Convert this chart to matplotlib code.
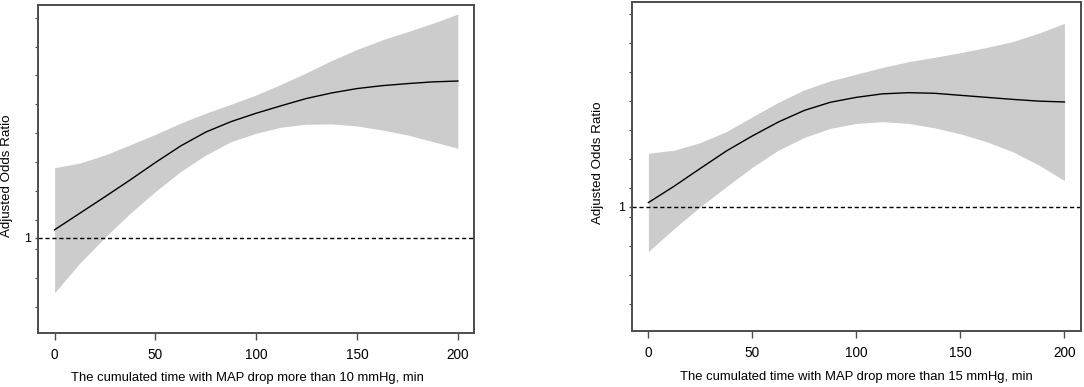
import numpy as np
import matplotlib
matplotlib.use("Agg")
import matplotlib.pyplot as plt

plt.rcParams['font.family'] = ['Liberation Sans', 'DejaVu Sans']

# -------------------------------
# Data
# -------------------------------
minutes = [0, 12.5, 25, 37.5, 50, 62.5, 75, 87.5, 100,
           112.5, 125, 137.5, 150, 162.5, 175, 187.5, 200]

# MAP drop > 10 mmHg
or10 = [1.028, 1.085, 1.142, 1.200, 1.260, 1.317, 1.365, 1.401, 1.430,
        1.456, 1.481, 1.500, 1.515, 1.525, 1.532, 1.538, 1.541]
upper10 = [1.242, 1.258, 1.286, 1.321, 1.357, 1.396, 1.430, 1.461, 1.493,
           1.530, 1.570, 1.612, 1.650, 1.683, 1.711, 1.740, 1.772]
lower10 = [0.811, 0.913, 1.002, 1.085, 1.160, 1.229, 1.286, 1.332, 1.361,
           1.382, 1.392, 1.393, 1.386, 1.372, 1.355, 1.332, 1.309]

# MAP drop > 15 mmHg
or15 = [1.014, 1.071, 1.132, 1.192, 1.244, 1.292, 1.332, 1.360, 1.377,
        1.389, 1.393, 1.391, 1.384, 1.377, 1.370, 1.364, 1.361]
upper15 = [1.184, 1.195, 1.221, 1.259, 1.310, 1.360, 1.403, 1.434, 1.457,
           1.480, 1.500, 1.515, 1.531, 1.549, 1.569, 1.598, 1.632]
lower15 = [0.845, 0.925, 1.000, 1.069, 1.136, 1.195, 1.239, 1.270, 1.287,
           1.293, 1.287, 1.272, 1.251, 1.224, 1.190, 1.144, 1.090]

xticks = [0, 50, 100, 150, 200]
xlabels = ["The cumulated time with MAP drop more than 10 mmHg, min",
           "The cumulated time with MAP drop more than 15 mmHg, min"]

SPINE = "#4d4d4d"
BAND = "#cccccc"


def draw_panel(ax, x, y, lo, hi, xlabel, ylim, minor, xlab_pos, ylab_pos):
    ax.fill_between(x, lo, hi, color=BAND, linewidth=0)
    ax.plot(x, y, color="black", linewidth=1.0)
    ax.axhline(1, color="black", linewidth=1.0, linestyle=(0, (3, 2)))

    ax.set_xlim(-8, 208)
    ax.set_ylim(*ylim)
    ax.set_xticks(xticks)
    ax.set_yticks([1])
    ax.set_yticklabels(["1"])
    ax.set_yticks(minor, minor=True)

    for s in ax.spines.values():
        s.set_color(SPINE)
        s.set_linewidth(1.4)

    ax.tick_params(axis="x", length=5, width=1, color=SPINE, pad=6,
                   labelsize=9.8)
    ax.tick_params(axis="y", which="major", length=2, width=1, color=SPINE,
                   pad=3, labelsize=9)
    ax.tick_params(axis="y", which="minor", length=2, width=0.8, color=SPINE)

    ax.set_xlabel(xlabel, fontsize=9.4)
    ax.set_ylabel("Adjusted Odds Ratio", fontsize=9.6)
    ax.xaxis.set_label_coords(*xlab_pos)
    ax.yaxis.set_label_coords(*ylab_pos)


def main():
    fig = plt.figure(figsize=(10.84, 3.87), dpi=100)

    ax1 = fig.add_axes([0.0355, 0.1395, 0.4018, 0.8475])
    ax2 = fig.add_axes([0.5828, 0.1447, 0.4145, 0.8510])

    minor1 = np.round(np.arange(0.76, 1.80, 0.1), 3)
    minor2 = np.round(np.arange(0.665, 1.70, 0.1), 3)

    draw_panel(ax1, minutes, or10, lower10, upper10, xlabels[0],
               (0.672, 1.803), minor1, (0.48, -0.118), (-0.058, 0.48))
    draw_panel(ax2, minutes, or15, lower15, upper15, xlabels[1],
               (0.571, 1.707), minor2, (0.5, -0.122), (-0.062, 0.51))

    fig.savefig("out.png", dpi=100)


if __name__ == "__main__":
    main()
